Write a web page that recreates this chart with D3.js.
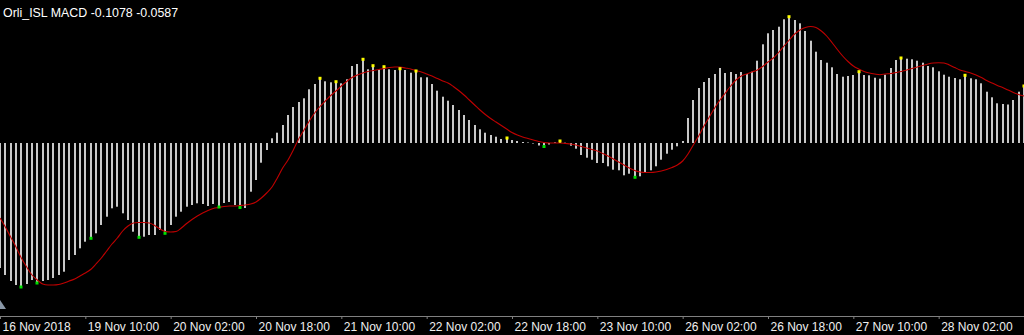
<!DOCTYPE html>
<html>
<head>
<meta charset="utf-8">
<style>
    html, body {
        margin: 0;
        padding: 0;
        background: #000;
    }
    svg {
        display: block;
        font-family: "Liberation Sans", Arial, sans-serif;
    }
    .axis .domain {
        stroke: #808080;
    }
    .axis .tick line {
        stroke: #808080;
    }
    .axis text {
        fill: #f0f0f0;
        font-size: 12px;
    }
</style>
</head>
<body>
<svg width="1024" height="335"></svg>
<script src="https://d3js.org/d3.v7.min.js"></script>
<script>

    // histogram (MACD main), one value per H1 bar
    var macd = [
        -0.125, -0.132, -0.138, -0.142, -0.144, -0.141, -0.137, -0.140, -0.138, -0.137,
        -0.135, -0.132, -0.1287, -0.117, -0.112, -0.1053, -0.0987, -0.0953, -0.0903, -0.082,
        -0.0737, -0.0653, -0.0637, -0.0703, -0.077, -0.0887, -0.0943, -0.0937, -0.092, -0.092,
        -0.087, -0.0903, -0.082, -0.0737, -0.0687, -0.0637, -0.062, -0.0603, -0.061, -0.063,
        -0.061, -0.064, -0.060, -0.059, -0.062, -0.0645, -0.065, -0.0487, -0.037, -0.0197,
        -0.007, 0.0047, 0.0103, 0.018, 0.028, 0.036, 0.041, 0.0447, 0.0537, 0.059,
        0.0647, 0.0617, 0.0607, 0.0613, 0.0597, 0.0637, 0.077, 0.079, 0.0837, 0.0737,
        0.0773, 0.0737, 0.0763, 0.0737, 0.073, 0.0743, 0.073, 0.0703, 0.072, 0.0657,
        0.0657, 0.059, 0.0523, 0.0463, 0.0423, 0.038, 0.033, 0.028, 0.023, 0.018,
        0.0137, 0.0103, 0.008, 0.0063, 0.004, 0.005, 0.003, 0.002, 0.001, 0.0005,
        -0.0005, -0.0025, -0.0035, -0.0015, 0.0007, 0.002, 0.0003, -0.0027, -0.0057, -0.012,
        -0.0147, -0.0167, -0.020, -0.020, -0.0233, -0.0267, -0.0273, -0.0323, -0.0307, -0.0343,
        -0.0333, -0.029, -0.0273, -0.0233, -0.0167, -0.0107, -0.0067, -0.0033, 0.002, 0.025,
        0.043, 0.055, 0.061, 0.065, 0.069, 0.075, 0.070, 0.071, 0.069, 0.071,
        0.069, 0.0713, 0.0823, 0.0987, 0.1097, 0.113, 0.1163, 0.1237, 0.1263, 0.123,
        0.1197, 0.112, 0.1023, 0.0913, 0.083, 0.0803, 0.0757, 0.069, 0.0663, 0.067,
        0.068, 0.0713, 0.068, 0.0677, 0.0653, 0.0643, 0.0683, 0.075, 0.083, 0.085,
        0.0843, 0.0837, 0.0823, 0.0803, 0.077, 0.0757, 0.0717, 0.0683, 0.0663, 0.065,
        0.0637, 0.0677, 0.0647, 0.0637, 0.0597, 0.0513, 0.0457, 0.0397, 0.039, 0.0385,
        0.043, 0.0513, 0.057
    ];

    // signal line
    var signal = [
        -0.075, -0.084, -0.094, -0.104, -0.115, -0.124, -0.132, -0.137, -0.141, -0.142,
        -0.142, -0.1415, -0.140, -0.138, -0.136, -0.133, -0.130, -0.1265, -0.121, -0.115,
        -0.108, -0.101, -0.095, -0.088, -0.083, -0.080, -0.0795, -0.0795, -0.080, -0.0825,
        -0.086, -0.0885, -0.089, -0.0885, -0.085, -0.0805, -0.0765, -0.073, -0.070, -0.0675,
        -0.0655, -0.0645, -0.0635, -0.063, -0.063, -0.0625, -0.062, -0.061, -0.059, -0.055,
        -0.050, -0.044, -0.035, -0.025, -0.017, -0.007, 0.004, 0.013, 0.022, 0.030,
        0.0365, 0.042, 0.0475, 0.052, 0.057, 0.0615, 0.0655, 0.068, 0.070, 0.0715,
        0.0725, 0.0735, 0.0745, 0.0755, 0.076, 0.076, 0.075, 0.074, 0.0725, 0.071,
        0.069, 0.067, 0.0645, 0.062, 0.060, 0.0565, 0.0525, 0.048, 0.043, 0.038,
        0.033, 0.0285, 0.0245, 0.021, 0.0175, 0.014, 0.0105, 0.008, 0.006, 0.0045,
        0.003, 0.0015, 0.0005, 0, 0, 0, -0.0005, -0.001, -0.002, -0.0035,
        -0.005, -0.0065, -0.008, -0.0105, -0.013, -0.016, -0.019, -0.022, -0.025, -0.0275,
        -0.029, -0.0295, -0.0295, -0.029, -0.028, -0.0265, -0.0245, -0.022, -0.018, -0.011,
        -0.002, 0.007, 0.017, 0.026, 0.035, 0.043, 0.050, 0.057, 0.063, 0.067,
        0.069, 0.071, 0.073, 0.0765, 0.081, 0.085, 0.0905, 0.097, 0.103, 0.109,
        0.113, 0.1155, 0.1165, 0.1155, 0.112, 0.107, 0.1005, 0.0935, 0.087, 0.0815,
        0.077, 0.074, 0.0715, 0.070, 0.069, 0.0683, 0.069, 0.0695, 0.0705, 0.0715,
        0.073, 0.0745, 0.076, 0.0775, 0.079, 0.080, 0.0803, 0.080, 0.078, 0.0755,
        0.073, 0.0715, 0.070, 0.068, 0.0655, 0.0625, 0.060, 0.0575, 0.0555, 0.053,
        0.0505, 0.0485, 0.047
    ];

    // bars carrying a marker dot
    var upDots = [60, 63, 68, 70, 72, 75, 78, 95, 105, 148, 161, 169, 181, 192];
    var downDots = [4, 7, 17, 26, 31, 41, 45, 102, 119];

    var tickLabels = ["16 Nov 2018", "19 Nov 10:00", "20 Nov 02:00", "20 Nov 18:00",
        "21 Nov 10:00", "22 Nov 02:00", "22 Nov 18:00", "23 Nov 10:00",
        "26 Nov 02:00", "26 Nov 18:00", "27 Nov 10:00", "28 Nov 02:00"];
    var barsPerTick = 16;

    var titleText = "Orli_ISL MACD -0.1078 -0.0587";

    var svg = d3.select("svg"),
        width = +svg.attr("width"),
        height = +svg.attr("height"),
        axisY = 316;

    var x = d3.scaleLinear()
        .domain([0, 192])
        .range([0, width]);

    var y = d3.scaleLinear()
        .domain([-0.143, 0.143])
        .range([286, 0]);

    svg.append("rect")
        .attr("width", width)
        .attr("height", height)
        .attr("fill", "#000");

    svg.append("defs").append("clipPath")
        .attr("id", "plot")
        .append("rect")
        .attr("width", width)
        .attr("height", axisY);

    var g = svg.append("g").attr("clip-path", "url(#plot)");

    // histogram
    g.append("g")
        .selectAll("rect")
        .data(macd)
        .enter().append("rect")
        .attr("x", function(d, i) { return Math.round(x(i)) - 1; })
        .attr("y", function(d) { return Math.min(y(d), y(0)); })
        .attr("width", 2)
        .attr("height", function(d) { return Math.abs(y(d) - y(0)); })
        .attr("fill", "#c8c8c8");

    // signal
    var line = d3.line()
        .x(function(d, i) { return x(i); })
        .y(function(d) { return y(d); })
        .curve(d3.curveMonotoneX);

    g.append("path")
        .datum(signal)
        .attr("fill", "none")
        .attr("stroke", "#c00000")
        .attr("stroke-width", 1.1)
        .attr("d", line);

    // marker dots at the bar tips
    g.append("g")
        .selectAll("rect")
        .data(upDots)
        .enter().append("rect")
        .attr("x", function(d) { return Math.round(x(d)) - 1.5; })
        .attr("y", function(d) { return y(macd[d]) - 1.5; })
        .attr("width", 3)
        .attr("height", 3)
        .attr("fill", "#ffff00");

    g.append("g")
        .selectAll("rect")
        .data(downDots)
        .enter().append("rect")
        .attr("x", function(d) { return Math.round(x(d)) - 1.5; })
        .attr("y", function(d) { return y(macd[d]) - 1.5; })
        .attr("width", 3)
        .attr("height", 3)
        .attr("fill", "#00e000");

    // time axis
    var axis = svg.append("g")
        .attr("class", "axis")
        .attr("transform", "translate(0," + axisY + ")")
        .call(d3.axisBottom(x)
            .tickValues(tickLabels.map(function(d, i) { return i * barsPerTick; }))
            .tickFormat(function(d, i) { return tickLabels[i]; })
            .tickSize(3)
            .tickSizeOuter(0));

    axis.selectAll("text")
        .attr("text-anchor", "start")
        .attr("x", 2)
        .attr("y", 6)
        .style("font-family", "'Liberation Sans', Arial, sans-serif");

    // shift marker
    svg.append("path")
        .attr("d", "M0,300L6,309L0,309Z")
        .attr("fill", "#8a98a8");

    svg.append("text")
        .attr("x", 3)
        .attr("y", 17)
        .attr("fill", "#ffffff")
        .style("font-size", "12.4px")
        .text(titleText);

</script>
</body>
</html>
